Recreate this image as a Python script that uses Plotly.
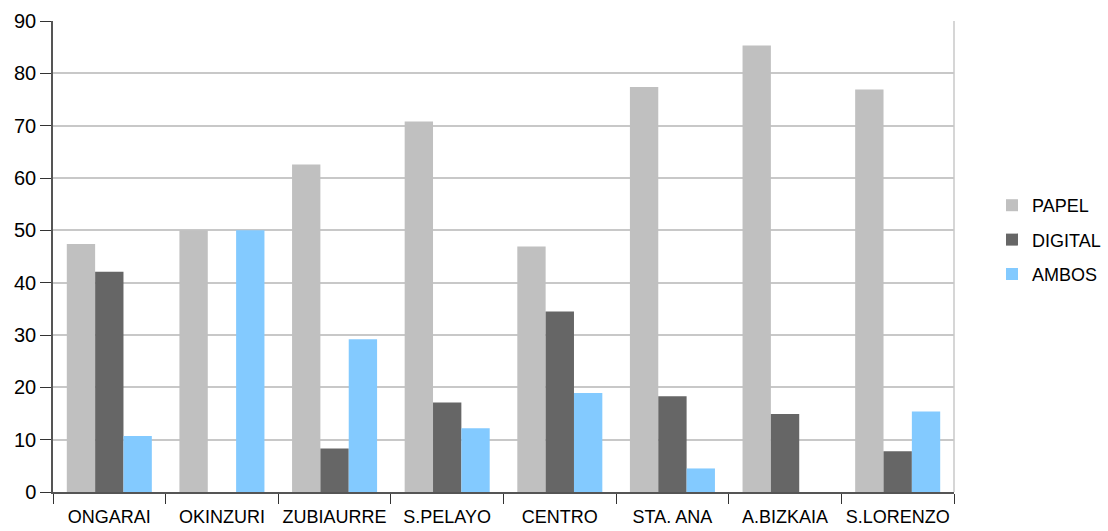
import plotly.graph_objects as go

categories = ["ONGARAI", "OKINZURI", "ZUBIAURRE", "S.PELAYO", "CENTRO", "STA. ANA", "A.BIZKAIA", "S.LORENZO"]
papel = [47.4, 50.0, 62.6, 70.8, 46.9, 77.4, 85.3, 76.9]
digital = [42.1, 0.0, 8.3, 17.1, 34.5, 18.3, 14.9, 7.8]
ambos = [10.7, 50.0, 29.2, 12.2, 18.9, 4.5, 0.0, 15.4]
y_ticks = [0, 10, 20, 30, 40, 50, 60, 70, 80, 90]

series = [("PAPEL", papel, "#c0c0c0"), ("DIGITAL", digital, "#666666"), ("AMBOS", ambos, "#83caff")]

fig = go.Figure()
for i, (name, vals, col) in enumerate(series):
    fig.add_trace(go.Bar(x=categories, y=vals, name=name, marker=dict(color=col, line=dict(width=0)),
                         legendgroup=f"g{i}"))

fig.update_layout(
    width=1108, height=531,
    margin=dict(l=53, r=154, t=21, b=39, autoexpand=False),
    paper_bgcolor="white", plot_bgcolor="white",
    barmode="group", bargap=0.245, bargroupgap=0,
    font=dict(family="Liberation Sans, Arial, sans-serif", color="#000000"),
    legend=dict(xref="container", yref="container", x=0.8953, y=0.548,
                xanchor="left", yanchor="middle", font=dict(size=18),
                tracegroupgap=8, itemwidth=30, traceorder="grouped"),
    showlegend=True,
)
fig.update_xaxes(
    type="category", showline=True, linecolor="#555555", linewidth=1.5,
    ticks="outside", tickson="boundaries", ticklen=10, tickcolor="#333333", tickwidth=1.2,
    tickfont=dict(size=18), tickangle=0, showgrid=False, mirror=False, ticklabelstandoff=8,
    automargin=False,
)
fig.update_yaxes(
    range=[0, 90], tickvals=y_ticks, showline=True, linecolor="#555555", linewidth=1.5,
    ticks="outside", ticklen=11, tickcolor="#333333", tickwidth=1.2,
    tickfont=dict(size=20), showgrid=True, gridcolor="#c8c8c8", gridwidth=1.5,
    zeroline=False, automargin=False,
)
# right border of plot area (light gray)
fig.add_shape(type="line", xref="paper", yref="paper", x0=1, x1=1, y0=0, y1=1,
              line=dict(color="#c8c8c8", width=1.5))

fig.write_html("out.html", config={"displayModeBar": False},
               post_script="document.body.style.margin='0';document.body.style.overflow='hidden';")
